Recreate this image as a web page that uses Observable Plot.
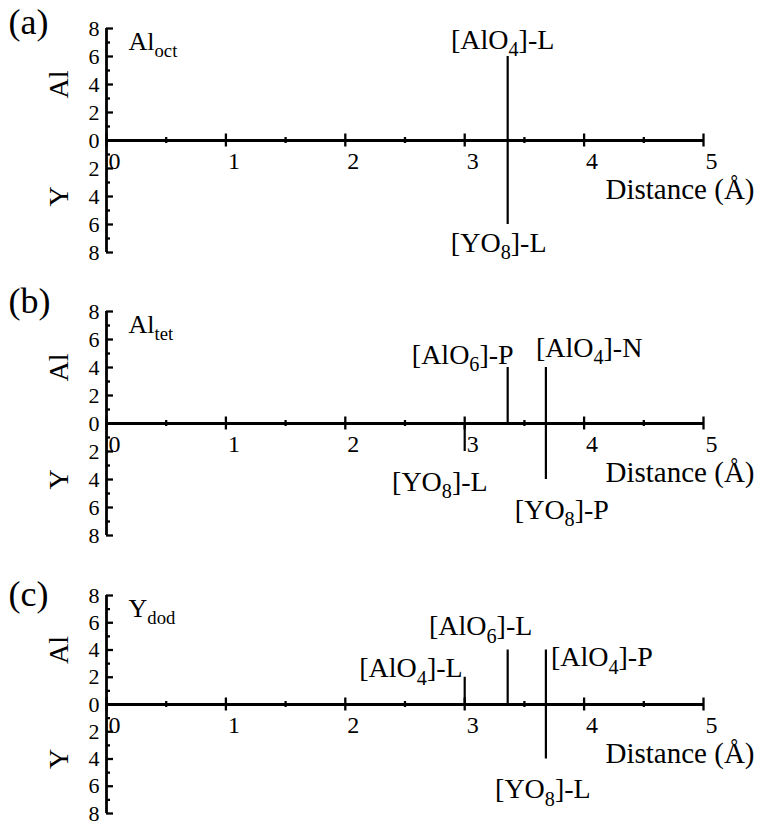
<!DOCTYPE html>
<html><head><meta charset="utf-8">
<script src="https://cdn.jsdelivr.net/npm/d3@7"></script>
<script src="https://cdn.jsdelivr.net/npm/@observablehq/plot@0.6"></script>
<style>
body{margin:0;background:#fff;}
#chart{width:760px;}
#chart svg{display:block;overflow:visible;}
</style></head><body><div id="chart"></div>
<script>
// ---- data ----
const panelLetters = ["(a)", "(b)", "(c)"];
const panelSites = ["Al_{oct}", "Al_{tet}", "Y_{dod}"];

const aDistance = [3.36, 3.36];
const aCount = [6, -6];
const aLabel = ["[AlO_{4}]-L", "[YO_{8}]-L"];

const bDistance = [3.36, 3.68, 3.0, 3.68];
const bCount = [4, 4, -2, -4];
const bLabel = ["[AlO_{6}]-P", "[AlO_{4}]-N", "[YO_{8}]-L", "[YO_{8}]-P"];

const cDistance = [3.0, 3.36, 3.68, 3.68];
const cCount = [2, 4, 4, -4];
const cLabel = ["[AlO_{4}]-L", "[AlO_{6}]-L", "[AlO_{4}]-P", "[YO_{8}]-L"];

const xTicks = [0, 1, 2, 3, 4, 5];
const xMinorTicks = [0.5, 1.5, 2.5, 3.5, 4.5];
const yTicks = [-8, -6, -4, -2, 0, 2, 4, 6, 8];
const yMinorTicks = [-7, -5, -3, -1, 1, 3, 5, 7];
const xTitle = "Distance (Å)";
const yTitles = ["Al", "Y"];

// ---- layout (label placement relative to bar end, in px) ----
const panels = [
  {dist: aDistance, count: aCount, label: aLabel, height: 283, marginTop: 28, marginBottom: 31, letterDy: -6,
   place: [{a: "middle", dx: -5, dy: -8}, {a: "middle", dx: -9, dy: 27}]},
  {dist: bDistance, count: bCount, label: bLabel, height: 282, marginTop: 28, marginBottom: 30, letterDy: -10,
   place: [{a: "end", dx: 6, dy: -4}, {a: "start", dx: -10, dy: -11}, {a: "end", dx: 23, dy: 39}, {a: "middle", dx: 16, dy: 39}]},
  {dist: cDistance, count: cCount, label: cLabel, height: 261, marginTop: 30, marginBottom: 13, letterDy: -1,
   place: [{a: "end", dx: -2, dy: 0}, {a: "middle", dx: -27, dy: -15}, {a: "start", dx: 5, dy: 16}, {a: "middle", dx: -3, dy: 39}]}
];

const chart = document.getElementById("chart");

panels.forEach((p, k) => {
  const idx = p.dist.map((_, i) => i);
  const svg = Plot.plot({
    width: 760,
    height: p.height,
    marginLeft: 106,
    marginRight: 57,
    marginTop: p.marginTop,
    marginBottom: p.marginBottom,
    x: {domain: [0, 5], axis: null},
    y: {domain: [-8, 8], axis: null},
    style: {fontFamily: "'Liberation Serif', 'Times New Roman', serif", background: "white", color: "black"},
    marks: [
      // axes lines
      Plot.ruleY([0], {x1: 0, x2: 5, stroke: "black", strokeWidth: 2.8}),
      Plot.ruleX([0], {y1: -8, y2: 8, stroke: "black", strokeWidth: 2.8}),
      // x ticks
      Plot.ruleX(xTicks, {x: d => d, y1: 0, y2: 0, insetTop: -6.5, insetBottom: -6.5, stroke: "black", strokeWidth: 2.3}),
      Plot.ruleX(xMinorTicks, {x: d => d, y1: 0, y2: 0, insetTop: -3, insetBottom: -3, stroke: "black", strokeWidth: 2.3}),
      // y ticks (inward)
      Plot.ruleY(yTicks, {y: d => d, x1: 0, x2: 0, insetRight: -7, stroke: "black", strokeWidth: 2.3}),
      Plot.ruleY(yMinorTicks, {y: d => d, x1: 0, x2: 0, insetRight: -4, stroke: "black", strokeWidth: 2.3}),
      // tick labels
      Plot.text(xTicks, {x: d => d, y: 0, text: d => String(d), textAnchor: "start", lineAnchor: "bottom", dx: 2, dy: 28, fontSize: 24, fill: "black"}),
      Plot.text(yTicks, {x: 0, y: d => d, text: d => String(Math.abs(d)), textAnchor: "end", lineAnchor: "middle", dx: -7, fontSize: 22, fill: "black"}),
      // axis titles
      Plot.text([xTitle], {x: 5, y: 0, text: d => d, textAnchor: "end", lineAnchor: "bottom", dx: 51, dy: 58, fontSize: 29, fill: "black"}),
      Plot.text(yTitles, {x: 0, y: (d, i) => (i === 0 ? 4 : -4), text: d => d, rotate: -90, textAnchor: "middle", lineAnchor: "middle", dx: -47, fontSize: 28, fill: "black"}),
      // panel letter and site
      Plot.text([panelLetters[k]], {frameAnchor: "top-left", text: d => d, textAnchor: "start", lineAnchor: "middle", dx: -98, dy: p.letterDy, fontSize: 36, fill: "black"}),
      Plot.text([panelSites[k]], {frameAnchor: "top-left", text: d => d, textAnchor: "start", lineAnchor: "bottom", dx: 22, dy: 21, fontSize: 26, fill: "black"}),
      // bars
      Plot.ruleX(idx, {x: i => p.dist[i], y1: 0, y2: i => p.count[i], stroke: "black", strokeWidth: 2.2}),
      // bar labels
      ...idx.map(i => Plot.text([i], {
        x: j => p.dist[j], y: j => p.count[j], text: j => p.label[j],
        textAnchor: p.place[i].a, lineAnchor: "bottom", dx: p.place[i].dx, dy: p.place[i].dy,
        fontSize: 28, fill: "black"
      }))
    ]
  });
  chart.appendChild(svg);
});

// subscripts: convert "_{...}" into real subscript tspans
chart.querySelectorAll("text").forEach(t => {
  const s = t.textContent;
  if (!s.includes("_{")) return;
  const fs = parseFloat(getComputedStyle(t).fontSize) || 20;
  const parts = s.split(/(_\{[^}]*\})/).filter(q => q);
  t.textContent = "";
  let shifted = 0;
  for (const q of parts) {
    const ts = document.createElementNS("http://www.w3.org/2000/svg", "tspan");
    if (q.startsWith("_{")) {
      ts.textContent = q.slice(2, -1);
      ts.setAttribute("font-size", (fs * 0.72).toFixed(1));
      const drop = fs * 0.28;
      ts.setAttribute("dy", (drop - shifted).toFixed(1));
      shifted = drop;
    } else {
      ts.textContent = q;
      if (shifted) { ts.setAttribute("dy", (-shifted).toFixed(1)); shifted = 0; }
    }
    t.appendChild(ts);
  }
});
</script>
</body></html>
